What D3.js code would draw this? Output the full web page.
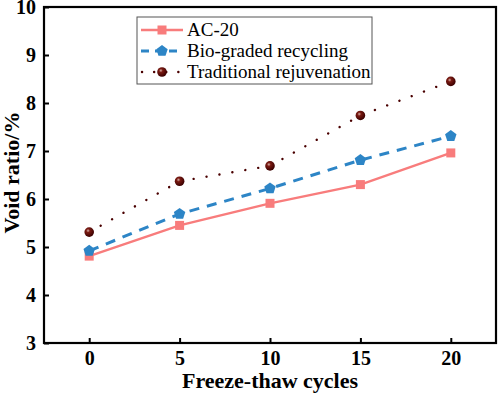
<!DOCTYPE html>
<html>
<head>
<meta charset="utf-8">
<script src="https://cdn.jsdelivr.net/npm/d3@7"></script>
<style>
  html, body { margin: 0; padding: 0; background: #fff; }
  svg { display: block; font-family: "Liberation Serif", "Times New Roman", serif; }
</style>
</head>
<body>
<svg id="chart" width="498" height="394"></svg>
<script>
// Void ratio vs freeze-thaw cycles, three mixtures.
const cycles = [0, 5, 10, 15, 20];
const ac20 = [4.81, 5.45, 5.91, 6.30, 6.96];
const bioGraded = [4.92, 5.69, 6.22, 6.81, 7.31];
const traditional = [5.31, 6.37, 6.69, 7.74, 8.45];
const yTicks = [3, 4, 5, 6, 7, 8, 9, 10];
const seriesNames = ["AC-20", "Bio-graded recycling", "Traditional rejuvenation"];

const margin = { top: 7, right: 2, bottom: 51, left: 44 };
const svg = d3.select("#chart");
const W = 498, H = 394;
const width = W - margin.left - margin.right;
const height = H - margin.top - margin.bottom;

const defs = svg.append("defs");
const grad = defs.append("radialGradient")
  .attr("id", "ball").attr("cx", "0.38").attr("cy", "0.35").attr("r", "0.65");
grad.append("stop").attr("offset", "0").attr("stop-color", "#d9b0a8");
grad.append("stop").attr("offset", "0.3").attr("stop-color", "#7a1a12");
grad.append("stop").attr("offset", "1").attr("stop-color", "#3a0000");

const g = svg.append("g").attr("transform", `translate(${margin.left},${margin.top})`);

const x = d3.scaleLinear().domain([-2.5, 22.5]).range([0, width]);
const y = d3.scaleLinear().domain([3, 10]).range([height, 0]);

// frame
g.append("rect")
  .attr("width", width).attr("height", height)
  .attr("fill", "none").attr("stroke", "#000").attr("stroke-width", 2.2);

const xAxis = g.append("g")
  .attr("transform", `translate(0,${height})`)
  .call(d3.axisBottom(x).tickValues(cycles).tickFormat(d3.format("d")).tickSize(-5).tickPadding(8));
const yAxis = g.append("g")
  .call(d3.axisLeft(y).tickValues(yTicks).tickFormat(d3.format("d")).tickSize(-5).tickPadding(8));

[xAxis, yAxis].forEach((ax) => {
  ax.select(".domain").remove();
  ax.selectAll(".tick line").attr("stroke", "#000").attr("stroke-width", 2);
  ax.selectAll(".tick text")
    .attr("fill", "#000")
    .style("font-size", "20px")
    .style("font-weight", "bold")
    .style("font-family", "Liberation Serif, serif");
});

// axis titles
g.append("text")
  .attr("x", x(10)).attr("y", height + 45)
  .attr("text-anchor", "middle")
  .style("font-size", "22px").style("font-weight", "bold")
  .text("Freeze-thaw cycles");

svg.append("text")
  .attr("transform", `translate(19,${margin.top + y(6.55)}) rotate(-90)`)
  .attr("text-anchor", "middle")
  .style("font-size", "22px").style("font-weight", "bold")
  .text("Void ratio/%");

const line = d3.line().x((d) => x(d[0])).y((d) => y(d[1]));
const pts = (vals) => cycles.map((c, i) => [c, vals[i]]);

const series = [
  { name: seriesNames[0], vals: ac20, color: "#f87c7c", dash: null, width: 2.4, marker: "square" },
  { name: seriesNames[1], vals: bioGraded, color: "#2d85c6", dash: "10,8", width: 3, marker: "pentagon" },
  { name: seriesNames[2], vals: traditional, color: "#4a0000", dash: "0.1,13", width: 2.4, marker: "ball" },
];

function drawMarker(sel, s, cx, cy) {
  if (s.marker === "square") {
    sel.append("rect")
      .attr("x", cx - 4.5).attr("y", cy - 4.5)
      .attr("width", 9).attr("height", 9)
      .attr("fill", s.color);
  } else if (s.marker === "pentagon") {
    const r = 6;
    const p = d3.range(5).map((k) => {
      const a = -Math.PI / 2 + k * 2 * Math.PI / 5;
      return [cx + r * Math.cos(a), cy + r * Math.sin(a)];
    });
    sel.append("polygon").attr("points", p.map((q) => q.join(",")).join(" ")).attr("fill", s.color);
  } else {
    sel.append("circle").attr("cx", cx).attr("cy", cy).attr("r", 4.8).attr("fill", "url(#ball)");
  }
}

series.forEach((s) => {
  g.append("path")
    .datum(pts(s.vals))
    .attr("d", line)
    .attr("fill", "none")
    .attr("stroke", s.color)
    .attr("stroke-width", s.width)
    .attr("stroke-linecap", s.marker === "ball" ? "round" : "butt")
    .attr("stroke-dasharray", s.dash);
  pts(s.vals).forEach((d) => drawMarker(g, s, x(d[0]), y(d[1])));
});

// legend
const leg = svg.append("g").attr("transform", "translate(137,17)");
leg.append("rect")
  .attr("width", 235).attr("height", 67)
  .attr("fill", "#fff").attr("stroke", "#555").attr("stroke-width", 1);
series.forEach((s, i) => {
  const cy = 13 + i * 21;
  leg.append("line")
    .attr("x1", 4).attr("x2", 46).attr("y1", cy).attr("y2", cy)
    .attr("stroke", s.color).attr("stroke-width", s.width)
    .attr("stroke-linecap", s.marker === "ball" ? "round" : "butt")
    .attr("stroke-dasharray", s.marker === "pentagon" ? "8,6" : s.marker === "ball" ? "0.1,12" : null)
    .attr("stroke-dashoffset", s.marker === "ball" ? -1 : 0);
  drawMarker(leg, s, 25, cy);
  leg.append("text")
    .attr("x", 50).attr("y", cy + 6)
    .style("font-size", "19px")
    .text(s.name);
});
</script>
</body>
</html>
